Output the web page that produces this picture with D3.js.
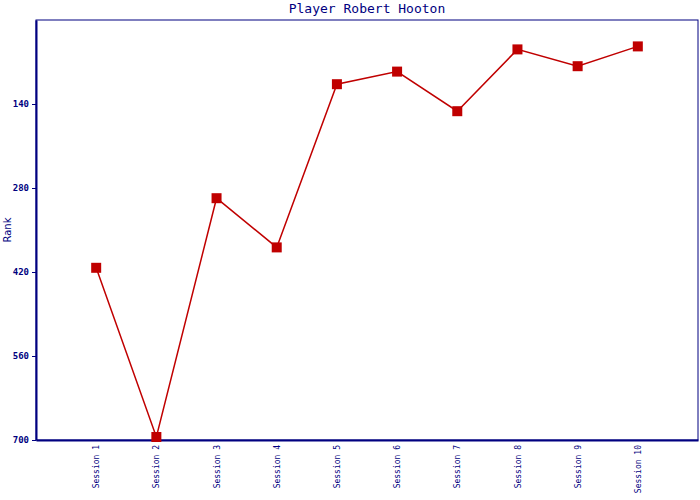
<!DOCTYPE html>
<html><head><meta charset="utf-8">
<script src="https://cdn.jsdelivr.net/npm/d3@7"></script>
<style>body{margin:0;background:#fff}svg{display:block}</style>
</head><body>
<script>
const categories = ["Session 1","Session 2","Session 3","Session 4","Session 5","Session 6","Session 7","Session 8","Session 9","Session 10"];
const ranks = [413, 695, 297, 379, 107, 86, 152, 49, 77, 44];
const yTicks = [140, 280, 420, 560, 700];
const title = "Player Robert Hooton";
const yLabel = "Rank";

const W = 700, H = 500;
const m = {l: 36, t: 20, r: 2, b: 60};
const navy = "#000080", red = "#c00000";
const svg = d3.select("body").append("svg").attr("width", W).attr("height", H);

const x = d3.scaleLinear().domain([0, categories.length + 1]).range([m.l, W - m.r]);
const y = d3.scaleLinear().domain([0, 700]).range([m.t, H - m.b]);

// frame
svg.append("rect").attr("x", m.l).attr("y", m.t).attr("width", W - m.r - m.l).attr("height", H - m.b - m.t)
  .attr("fill", "none").attr("stroke", navy).attr("stroke-width", 1);

// y axis
const ya = svg.append("g").attr("transform", `translate(${m.l},0)`)
  .call(d3.axisLeft(y).tickValues(yTicks).tickSizeInner(4).tickSizeOuter(0).tickPadding(3));
ya.select(".domain").attr("stroke", navy).attr("stroke-width", 2);
ya.selectAll(".tick line").attr("stroke", navy);
ya.selectAll("text").attr("fill", navy).style("font-family", "DejaVu Sans Mono, monospace").style("font-size", "9px").style("font-weight", "bold");

// x axis
const xa = svg.append("g").attr("transform", `translate(0,${H - m.b})`)
  .call(d3.axisBottom(x).tickValues(d3.range(1, categories.length + 1)).tickFormat(i => categories[i - 1]).tickSize(0));
xa.select(".domain").attr("stroke", navy).attr("stroke-width", 2);
xa.selectAll("text").attr("fill", navy).style("font-family", "DejaVu Sans Mono, monospace").style("font-size", "8px")
  .attr("transform", "rotate(-90)").attr("text-anchor", "end").attr("x", -5).attr("y", 0).attr("dy", "0.32em");

// line
const line = d3.line().x((d, i) => x(i + 1)).y(d => y(d));
svg.append("path").datum(ranks).attr("d", line).attr("fill", "none").attr("stroke", red).attr("stroke-width", 1.5);
svg.selectAll("rect.pt").data(ranks).join("rect").attr("class", "pt")
  .attr("x", (d, i) => x(i + 1) - 5).attr("y", d => y(d) - 5).attr("width", 10).attr("height", 10).attr("fill", red);

// title
svg.append("text").attr("x", (m.l + W - m.r) / 2).attr("y", 13).attr("text-anchor", "middle")
  .attr("fill", navy).style("font-family", "DejaVu Sans Mono, monospace").style("font-size", "13px").text(title);

// y label
svg.append("text").attr("transform", `translate(11,${(m.t + H - m.b) / 2}) rotate(-90)`).attr("text-anchor", "middle")
  .attr("fill", navy).style("font-family", "DejaVu Sans, sans-serif").style("font-size", "10px").text(yLabel);
</script>
</body></html>
